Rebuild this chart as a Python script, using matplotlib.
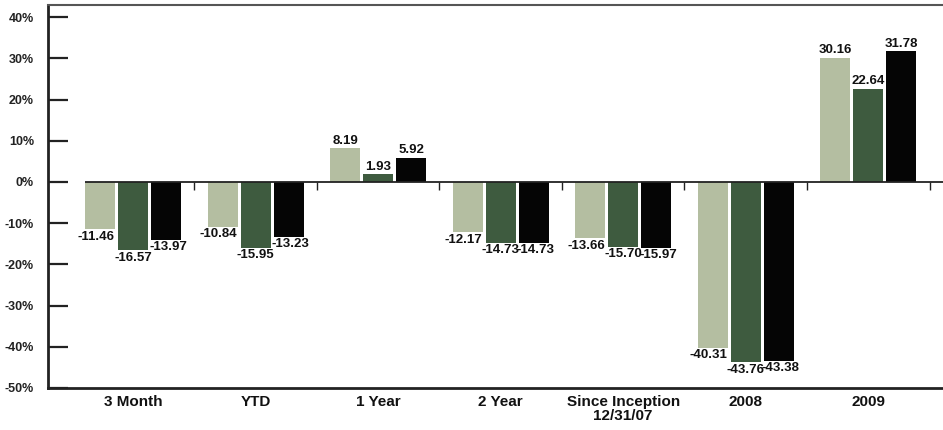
import numpy as np
import matplotlib
matplotlib.use("Agg")
import matplotlib.pyplot as plt

plt.rcParams['font.family'] = ['Liberation Sans', 'DejaVu Sans']

categories = ["3 Month", "YTD", "1 Year", "2 Year", "Since Inception\n12/31/07", "2008", "2009"]
series_a = [-11.46, -10.84, 8.19, -12.17, -13.66, -40.31, 30.16]
series_b = [-16.57, -15.95, 1.93, -14.73, -15.70, -43.76, 22.64]
series_c = [-13.97, -13.23, 5.92, -14.73, -15.97, -43.38, 31.78]
colors = ["#b4bea1", "#3e5b3f", "#050505"]
y_ticks = [-50, -40, -30, -20, -10, 0, 10, 20, 30, 40]

fig = plt.figure(figsize=(9.43, 4.3), dpi=100)
ax = fig.add_axes([48 / 943, 42 / 430, (943 - 48) / 943, 383 / 430])

x = np.arange(len(categories))
step = 0.269
width = 0.245
label_shift = [-3, 0, 1.5]  # points, like the original label placement
for k, (vals, col) in enumerate(zip([series_a, series_b, series_c], colors)):
    xs = x + (k - 1) * step
    ax.bar(xs, vals, width=width, color=col, zorder=2)
    for xi, v in zip(xs, vals):
        if v >= 0:
            ax.annotate(f"{v:.2f}", (xi, v), xytext=(0, 1), textcoords="offset points",
                        ha="center", va="bottom", fontsize=9.5, fontweight="bold", color="#111")
        else:
            ax.annotate(f"{v:.2f}", (xi, v), xytext=(label_shift[k], -1), textcoords="offset points",
                        ha="center", va="top", fontsize=9.5, fontweight="bold", color="#111")

# zero line with small ticks between groups
ax.hlines(0, x[0] - step - width / 2, 6.61, color="#222", lw=1.3, zorder=3)
ax.vlines(x + 0.5, -2, 0, color="#222", lw=1.0, zorder=3)

ax.set_xlim(-0.694, 6.61)
ax.set_ylim(-50, 42.96)
ax.set_yticks(y_ticks)
ax.set_yticklabels([f"{t}%" for t in y_ticks], fontsize=9, fontweight="bold", color="#222")
ax.tick_params(axis="y", direction="in", length=14.5, width=1.6, color="#222", pad=10)
ax.set_xticks(x)
ax.set_xticklabels(categories, fontsize=11, fontweight="bold", color="#111", linespacing=1.0)
ax.tick_params(axis="x", length=0, pad=5)

ax.spines["right"].set_visible(False)
ax.spines["left"].set_color("#222")
ax.spines["left"].set_linewidth(2)
ax.spines["bottom"].set_color("#222")
ax.spines["bottom"].set_linewidth(2)
ax.spines["top"].set_color("#555")
ax.spines["top"].set_linewidth(1.5)

fig.savefig("out.png", dpi=100)
